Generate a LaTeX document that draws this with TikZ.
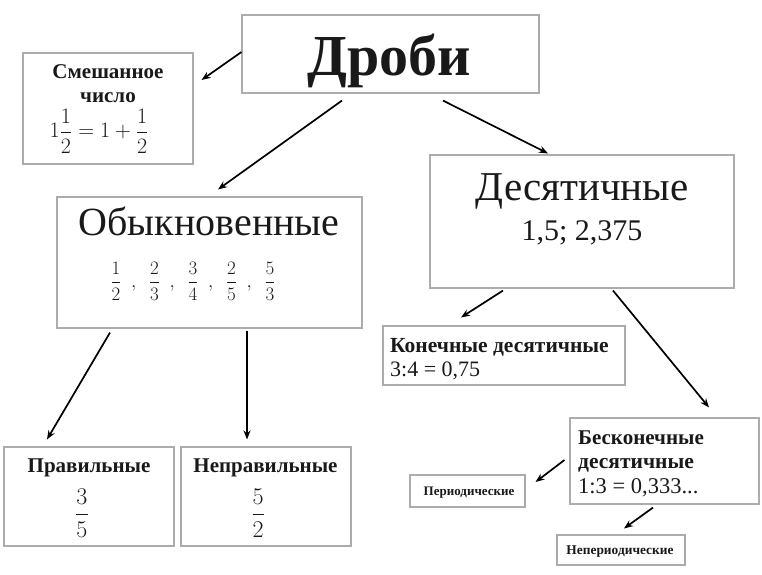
\RequirePackage{fix-cm}
\documentclass[tikz,border=0pt]{standalone}
\usepackage{amsmath}
\usepackage{fontspec}
\setmainfont{Liberation Serif}
\usetikzlibrary{arrows.meta}
\newcommand{\fsz}[1]{\fontsize{#1}{#1}\selectfont}
\newcommand{\fsep}{\hspace{9.5pt},\hspace{9.5pt}}
\begin{document}
\begin{tikzpicture}[
        x=1pt, y=-1pt,
        box/.style={draw=gray!65, line width=1.1pt, inner sep=0pt},
        lbl/.style={inner sep=0pt, text=black!90},
        arr/.style={-{Stealth[length=9pt,width=7pt]}, line width=1.7pt},
    ]
    \useasboundingbox (0,0) rectangle (762,574);

    \node[box, minimum width=297pt, minimum height=78pt] (drobi) at (390.5,54) {};
    \node[box, minimum width=170pt, minimum height=111pt] (mixed) at (108,108.5) {};
    \node[box, minimum width=305pt, minimum height=131pt] (obyk) at (209.5,262.5) {};
    \node[box, minimum width=304pt, minimum height=133pt] (dec) at (582,221.5) {};
    \node[box, minimum width=242pt, minimum height=59pt] (fin) at (504,355.5) {};
    \node[box, minimum width=189pt, minimum height=86pt] (inf) at (664.5,461) {};
    \node[box, minimum width=115pt, minimum height=32pt] (per) at (467.5,491) {};
    \node[box, minimum width=128pt, minimum height=30pt] (nonper) at (621,550) {};
    \node[box, minimum width=170pt, minimum height=99pt] (prav) at (89,496.5) {};
    \node[box, minimum width=170pt, minimum height=99pt] (neprav) at (266,496.5) {};

    \node[lbl, anchor=base] (drobit) at (389.5,75) {\fsz{58}\bfseries Дроби};
    \node[lbl, anchor=base] (mixedt1) at (108,78) {\fsz{21}\bfseries Смешанное};
    \node[lbl, anchor=base] (mixedt2) at (108,102) {\fsz{21}\bfseries число};
    \node[lbl] (mixedf) at (99,131) {\fsz{22}$1\dfrac{1}{2}=1+\dfrac{1}{2}$};
    \node[lbl, anchor=base] (obykt) at (209,235) {\fsz{40}Обыкновенные};
    \node[lbl] (obykf) at (193,281) {\fsz{19}$\dfrac{1}{2}\fsep\dfrac{2}{3}\fsep\dfrac{3}{4}\fsep\dfrac{2}{5}\fsep\dfrac{5}{3}$};
    \node[lbl, anchor=base] (dect) at (582,200) {\fsz{41}Десятичные};
    \node[lbl, anchor=base] (decf) at (582,240) {\fsz{30}1,5; 2,375};
    \node[lbl, anchor=base west] (fint) at (390,352) {\fsz{21.5}\bfseries Конечные десятичные};
    \node[lbl, anchor=base west] (finf) at (390,376) {\fsz{22}3:4 = 0,75};
    \node[lbl, anchor=base west] (inft1) at (578,444) {\fsz{21}\bfseries Бесконечные};
    \node[lbl, anchor=base west] (inft2) at (578,468) {\fsz{21.5}\bfseries десятичные};
    \node[lbl, anchor=base west] (inff) at (578,493) {\fsz{22.5}1:3 = 0,333...};
    \node[lbl, anchor=base] (pert) at (469,495) {\fsz{13}\bfseries Периодические};
    \node[lbl, anchor=base] (nonpert) at (620,554) {\fsz{13.4}\bfseries Непериодические};
    \node[lbl, anchor=base] (pravt) at (89,472) {\fsz{21}\bfseries Правильные};
    \node[lbl] (pravf) at (82,513) {\fsz{24}$\dfrac{3}{5}$};
    \node[lbl, anchor=base] (nepravt) at (265.5,472) {\fsz{21}\bfseries Неправильные};
    \node[lbl] (nepravf) at (258,513) {\fsz{24}$\dfrac{5}{2}$};

    \draw[arr] ([yshift=2pt]drobi.west) -- ([xshift=8pt,yshift=28.5pt]mixed.east);
    \draw[arr] ([xshift=-48.5pt,yshift=-7pt]drobi.south) -- ([xshift=8.5pt,yshift=7pt]obyk.north);
    \draw[arr] ([xshift=52.5pt,yshift=-7pt]drobi.south) -- ([xshift=-34pt,yshift=1pt]dec.north);
    \draw[arr] ([xshift=-99.5pt,yshift=-4pt]obyk.south) -- ([xshift=-42pt,yshift=7pt]prav.north);
    \draw[arr] ([xshift=37.5pt,yshift=-2pt]obyk.south) -- ([xshift=-19pt,yshift=7pt]neprav.north);
    \draw[arr] ([xshift=-79pt,yshift=-2pt]dec.south) -- ([xshift=-43pt,yshift=8pt]fin.north);
    \draw[arr] ([xshift=31pt,yshift=-2pt]dec.south) -- ([xshift=44.5pt,yshift=10pt]inf.north);
    \draw[arr] ([xshift=-5pt,yshift=1pt]inf.west) -- ([xshift=10pt,yshift=9pt]per.east);
    \draw[arr] ([xshift=-11.5pt,yshift=-3pt]inf.south) -- ([xshift=3pt,yshift=6pt]nonper.north);
\end{tikzpicture}
\end{document}
